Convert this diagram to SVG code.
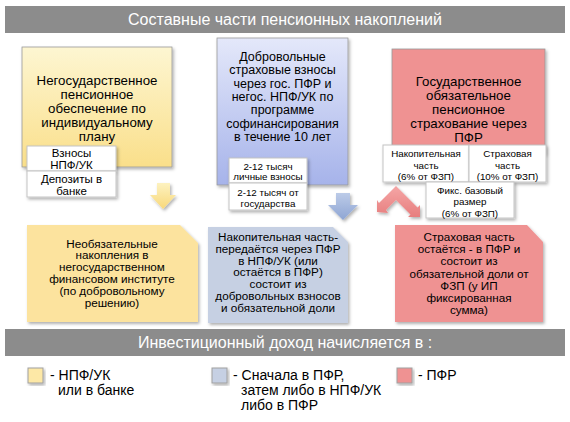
<svg xmlns="http://www.w3.org/2000/svg" width="570" height="422" viewBox="0 0 570 422">
<defs>
<style>
text{font-family:"Liberation Sans",Arial,Helvetica,sans-serif;fill:#000;text-anchor:middle}
.bar{fill:#8c8c8c}
.bt{fill:#fff;font-size:16px}
.t1{font-size:13.3px}
.t1b{font-size:12.5px}
.t2{font-size:11.7px}
.ts{font-size:11.5px}
.tx{font-size:9.8px}
.lg{font-size:14px;text-anchor:start}
.wb{fill:#fff;stroke:#c4c4c4;stroke-width:1}
.main{stroke:#9a9a9a;stroke-width:0.8}
.leg{stroke:#a0a0a0;stroke-width:1}
</style>
<linearGradient id="gy" x1="0" y1="0" x2="0" y2="1"><stop offset="0" stop-color="#fdf6d2"/><stop offset="1" stop-color="#fadf8a"/></linearGradient>
<linearGradient id="gb" x1="0" y1="0" x2="0" y2="1"><stop offset="0" stop-color="#e4e8fa"/><stop offset="1" stop-color="#a6b3ea"/></linearGradient>
<linearGradient id="ay" x1="0" y1="0" x2="0" y2="1"><stop offset="0" stop-color="#fdf2c0"/><stop offset="1" stop-color="#f8d87a"/></linearGradient>
<linearGradient id="ab" x1="0" y1="0" x2="0" y2="1"><stop offset="0" stop-color="#bccbe8"/><stop offset="1" stop-color="#8ea5d3"/></linearGradient>
<linearGradient id="ar" x1="0" y1="0" x2="0" y2="1"><stop offset="0" stop-color="#f5a6a6"/><stop offset="1" stop-color="#e77e7e"/></linearGradient>
<filter id="sh" x="-20%" y="-20%" width="140%" height="140%"><feDropShadow dx="1.5" dy="2" stdDeviation="1.5" flood-color="#000" flood-opacity="0.3"/></filter>
</defs>

<g id="title">
<rect class="bar" x="5" y="6" width="560" height="27"/>
<text class="bt" x="285" y="25">Составные части пенсионных накоплений</text>
</g>

<g id="connectors">
<polygon filter="url(#sh)" fill="url(#ay)" points="157,183 170,183 170,195 176,195 163,209 150,195 157,195"/>
<polygon filter="url(#sh)" fill="url(#ab)" points="336,193 350,193 350,205 358,205 343,220 328,205 336,205"/>
<polygon filter="url(#sh)" fill="url(#ar)" points="396,186 417.5,207.5 420,205 420,217 408,217 410.5,214.5 396,200 386,210 388,213 377,212 377,200 379,203"/>
</g>

<g id="n-yellow-top">
<rect class="main" filter="url(#sh)" x="22" y="47" width="150" height="120" fill="url(#gy)"/>
<text class="t1" x="97"><tspan x="97" y="85">Негосударственное</tspan><tspan x="97" y="99">пенсионное</tspan><tspan x="97" y="113">обеспечение по</tspan><tspan x="97" y="127">индивидуальному</tspan><tspan x="97" y="141">плану</tspan></text>
</g>
<g id="n-y1">
<rect class="wb" filter="url(#sh)" x="27" y="146" width="89" height="25"/>
<text class="ts"><tspan x="71.5" y="157">Взносы</tspan><tspan x="71.5" y="169">НПФ/УК</tspan></text>
</g>
<g id="n-y2">
<rect class="wb" filter="url(#sh)" x="27" y="171" width="89" height="26"/>
<text class="ts"><tspan x="71.5" y="183">Депозиты в</tspan><tspan x="71.5" y="195">банке</tspan></text>
</g>

<g id="n-blue-top">
<rect class="main" filter="url(#sh)" x="217" y="38" width="131" height="147" fill="url(#gb)"/>
<text class="t1b"><tspan x="282.5" y="61">Добровольные</tspan><tspan x="282.5" y="74.3">страховые взносы</tspan><tspan x="282.5" y="87.6">через гос. ПФР и</tspan><tspan x="282.5" y="100.9">негос. НПФ/УК по</tspan><tspan x="282.5" y="114.2">программе</tspan><tspan x="282.5" y="127.5">софинансирования</tspan><tspan x="282.5" y="140.8">в течение 10 лет</tspan></text>
</g>
<g id="n-b1">
<rect class="wb" filter="url(#sh)" x="229" y="158" width="78" height="25"/>
<text class="tx"><tspan x="268" y="170">2-12 тысяч</tspan><tspan x="268" y="180">личные взносы</tspan></text>
</g>
<g id="n-b2">
<rect class="wb" filter="url(#sh)" x="229" y="183" width="78" height="27"/>
<text class="tx"><tspan x="268" y="195.5">2-12 тысяч от</tspan><tspan x="268" y="206.5">государства</tspan></text>
</g>

<g id="n-red-top">
<rect class="main" filter="url(#sh)" x="392" y="49" width="153" height="105" fill="#ef9292"/>
<text class="t1"><tspan x="468.5" y="86">Государственное</tspan><tspan x="468.5" y="100">обязательное</tspan><tspan x="468.5" y="114">пенсионное</tspan><tspan x="468.5" y="128">страхование через</tspan><tspan x="468.5" y="142">ПФР</tspan></text>
</g>
<g id="n-r1">
<rect class="wb" filter="url(#sh)" x="383" y="145" width="86" height="37"/>
<text class="tx"><tspan x="426" y="156.5">Накопительная</tspan><tspan x="426" y="168.5">часть</tspan><tspan x="426" y="180">(6% от ФЗП)</tspan></text>
</g>
<g id="n-r2">
<rect class="wb" filter="url(#sh)" x="469" y="145" width="77" height="37"/>
<text class="tx"><tspan x="507.5" y="156.5">Страховая</tspan><tspan x="507.5" y="168.5">часть</tspan><tspan x="507.5" y="180">(10% от ФЗП)</tspan></text>
</g>
<g id="n-r3">
<rect class="wb" filter="url(#sh)" x="426" y="182" width="88" height="36"/>
<text class="tx"><tspan x="470" y="193.5">Фикс. базовый</tspan><tspan x="470" y="205">размер</tspan><tspan x="470" y="216.5">(6% от ФЗП)</tspan></text>
</g>

<g id="n-yellow-bottom">
<polygon filter="url(#sh)" fill="#fce39e" points="27,225 180,225 198,243 198,322 27,322"/>
<text class="t2"><tspan x="112" y="247.5">Необязательные</tspan><tspan x="112" y="259.3">накопления в</tspan><tspan x="112" y="271.1">негосударственном</tspan><tspan x="112" y="282.9">финансовом институте</tspan><tspan x="112" y="294.7">(по добровольному</tspan><tspan x="112" y="306.5">решению)</tspan></text>
</g>
<g id="n-blue-bottom">
<polygon filter="url(#sh)" fill="#c6d0e3" points="208,227 333,227 348,242 348,323 208,323"/>
<text class="t2"><tspan x="278" y="241">Накопительная часть-</tspan><tspan x="278" y="252.8">передаётся через ПФР</tspan><tspan x="278" y="264.6">в НПФ/УК (или</tspan><tspan x="278" y="276.4">остаётся в ПФР)</tspan><tspan x="278" y="288.2">состоит из</tspan><tspan x="278" y="300">добровольных взносов</tspan><tspan x="278" y="311.8">и обязательной доли</tspan></text>
</g>
<g id="n-red-bottom">
<polygon filter="url(#sh)" fill="#ef9292" points="395,225 527,225 543,242 543,322 395,322"/>
<text class="t2"><tspan x="469" y="241">Страховая часть</tspan><tspan x="469" y="253.2">остаётся - в ПФР и</tspan><tspan x="469" y="265.4">состоит из</tspan><tspan x="469" y="277.6">обязательной доли от</tspan><tspan x="469" y="289.8">ФЗП (у ИП</tspan><tspan x="469" y="302">фиксированная</tspan><tspan x="469" y="314.2">сумма)</tspan></text>
</g>

<g id="bar2">
<rect class="bar" x="5" y="329" width="560" height="27"/>
<text class="bt" x="285" y="348">Инвестиционный доход начисляется в :</text>
</g>

<g id="legend">
<rect class="leg" filter="url(#sh)" x="28" y="368" width="15" height="15" fill="#fde8a6"/>
<text class="lg"><tspan x="50" y="380">- НПФ/УК</tspan><tspan x="58" y="395">или в банке</tspan></text>
<rect class="leg" filter="url(#sh)" x="212" y="368" width="15" height="15" fill="#c6d0e3"/>
<text class="lg"><tspan x="233" y="380">- Сначала в ПФР,</tspan><tspan x="241" y="395">затем либо в НПФ/УК</tspan><tspan x="241" y="410">либо в ПФР</tspan></text>
<rect class="leg" filter="url(#sh)" x="397" y="368" width="15" height="15" fill="#ef9292"/>
<text class="lg"><tspan x="418" y="380">- ПФР</tspan></text>
</g>
</svg>
